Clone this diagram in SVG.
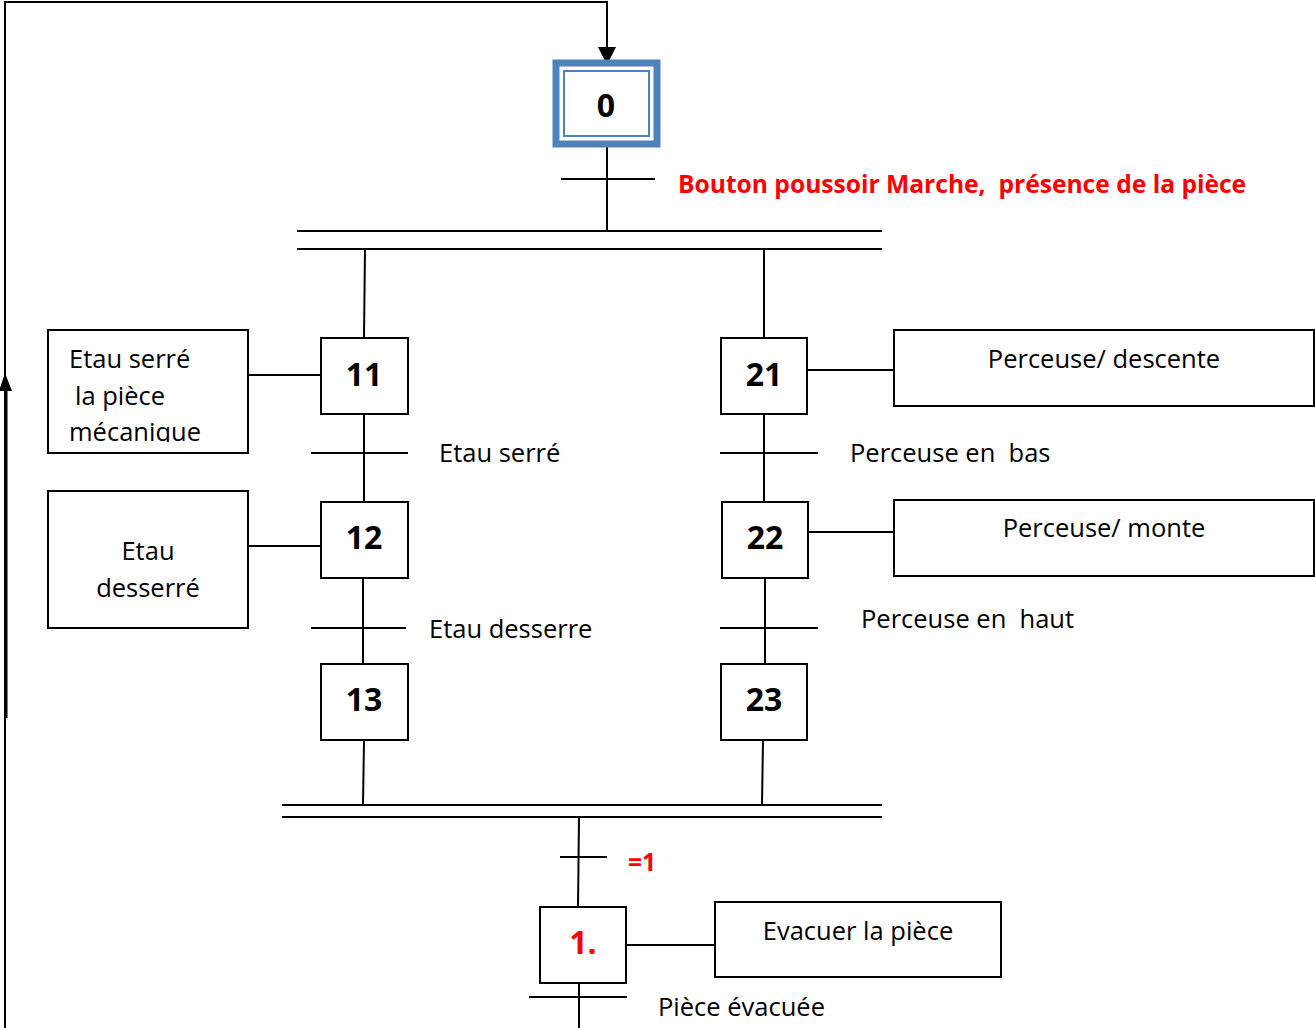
<svg xmlns="http://www.w3.org/2000/svg" width="1315" height="1028" viewBox="0 0 1315 1028" xml:space="preserve">
  <style>
    .ln { stroke: #000; stroke-width: 2; fill: none; }
    .box { fill: #fff; stroke: #000; stroke-width: 2; }
    .num { font-family: "Open Sans", "Liberation Sans", sans-serif; font-weight: bold; font-size: 32px; text-anchor: middle; fill: #000; }
    .lbl { font-family: "Open Sans", "Liberation Sans", sans-serif; font-size: 25.5px; fill: #000; white-space: pre; }
    .red { font-family: "Open Sans", "Liberation Sans", sans-serif; font-weight: bold; font-size: 24.6px; fill: #ff0000; white-space: pre; }
  </style>
  <defs>
    <clipPath id="clipA">
      <rect x="49" y="331" width="198" height="111"/>
    </clipPath>
  </defs>

  <!-- connectors -->
  <g id="connectors">
    <!-- loop back to initial step -->
    <polyline class="ln" points="5,1028 5,2 607,2 607,50"/>
    <path d="M5,373 L-1,391 L12,391 Z" fill="#000"/>
    <line x1="6" y1="390" x2="6" y2="718" stroke="#000" stroke-width="3"/>
    <path d="M598,47 L616,47 L607,65 Z" fill="#000"/>

    <!-- step 0 to divergence -->
    <line class="ln" x1="607" y1="147" x2="607" y2="231"/>
    <line class="ln" x1="561" y1="179" x2="655" y2="179"/>

    <!-- AND divergence -->
    <line class="ln" x1="297" y1="231" x2="882" y2="231"/>
    <line class="ln" x1="297" y1="249" x2="882" y2="249"/>

    <!-- left branch -->
    <line class="ln" x1="365" y1="249" x2="364" y2="338"/>
    <line class="ln" x1="248" y1="375" x2="321" y2="375"/>
    <line class="ln" x1="364" y1="414" x2="364" y2="502"/>
    <line class="ln" x1="311" y1="453" x2="408" y2="453"/>
    <line class="ln" x1="248" y1="546" x2="321" y2="546"/>
    <line class="ln" x1="363" y1="578" x2="363" y2="664"/>
    <line class="ln" x1="311" y1="628" x2="406" y2="628"/>
    <line class="ln" x1="364" y1="740" x2="363" y2="805"/>

    <!-- right branch -->
    <line class="ln" x1="764" y1="249" x2="764" y2="338"/>
    <line class="ln" x1="807" y1="370" x2="894" y2="370"/>
    <line class="ln" x1="764" y1="414" x2="764" y2="502"/>
    <line class="ln" x1="720" y1="453" x2="818" y2="453"/>
    <line class="ln" x1="808" y1="532" x2="897" y2="532"/>
    <line class="ln" x1="765" y1="576" x2="765" y2="664"/>
    <line class="ln" x1="720" y1="628" x2="818" y2="628"/>
    <line class="ln" x1="763" y1="740" x2="762" y2="805"/>

    <!-- AND convergence -->
    <line class="ln" x1="282" y1="805" x2="882" y2="805"/>
    <line class="ln" x1="282" y1="817" x2="882" y2="817"/>

    <!-- to final step -->
    <line class="ln" x1="579" y1="817" x2="578" y2="907"/>
    <line class="ln" x1="560" y1="857" x2="607" y2="857"/>
    <line class="ln" x1="626" y1="945" x2="715" y2="945"/>
    <line class="ln" x1="579" y1="983" x2="579" y2="1028"/>
    <line class="ln" x1="529" y1="997" x2="627" y2="997"/>
  </g>

  <!-- transition labels -->
  <g id="conditions">
    <text class="red" x="678" y="193">Bouton poussoir Marche,  présence de la pièce</text>
    <text class="lbl" x="439" y="462">Etau serré</text>
    <text class="lbl" x="429" y="638">Etau desserre</text>
    <text class="lbl" x="850" y="462">Perceuse en  bas</text>
    <text class="lbl" x="861" y="628">Perceuse en  haut</text>
    <text class="red" x="628" y="871">=1</text>
    <text class="lbl" x="658" y="1016">Pièce évacuée</text>
  </g>

  <!-- initial step -->
  <g id="step0">
    <rect x="556" y="63" width="101" height="81" fill="#fff" stroke="#4f81bd" stroke-width="7"/>
    <rect x="564" y="71" width="85" height="65" fill="none" stroke="#4f81bd" stroke-width="2"/>
    <text class="num" x="606" y="117">0</text>
  </g>

  <g id="step11">
    <rect class="box" x="321" y="338" width="87" height="76"/>
    <text class="num" x="364" y="386">11</text>
  </g>
  <g id="action11">
    <rect class="box" x="48" y="330" width="200" height="123"/>
    <g clip-path="url(#clipA)">
      <text class="lbl" x="69" y="368">Etau serré</text>
      <text class="lbl" x="75" y="405">la pièce</text>
      <text class="lbl" x="69" y="441">mécanique</text>
    </g>
  </g>

  <g id="step12">
    <rect class="box" x="321" y="502" width="87" height="76"/>
    <text class="num" x="364" y="549">12</text>
  </g>
  <g id="action12">
    <rect class="box" x="48" y="491" width="200" height="137"/>
    <text class="lbl" x="148" y="560" text-anchor="middle">Etau</text>
    <text class="lbl" x="148" y="597" text-anchor="middle">desserré</text>
  </g>

  <g id="step13">
    <rect class="box" x="321" y="664" width="87" height="76"/>
    <text class="num" x="364" y="711">13</text>
  </g>

  <g id="step21">
    <rect class="box" x="721" y="338" width="86" height="76"/>
    <text class="num" x="764" y="386">21</text>
  </g>
  <g id="action21">
    <rect class="box" x="894" y="330" width="420" height="76"/>
    <text class="lbl" x="1104" y="368" text-anchor="middle">Perceuse/ descente</text>
  </g>

  <g id="step22">
    <rect class="box" x="722" y="502" width="86" height="76"/>
    <text class="num" x="765" y="549">22</text>
  </g>
  <g id="action22">
    <rect class="box" x="894" y="500" width="420" height="76"/>
    <text class="lbl" x="1104" y="537" text-anchor="middle">Perceuse/ monte</text>
  </g>

  <g id="step23">
    <rect class="box" x="721" y="664" width="86" height="76"/>
    <text class="num" x="764" y="711">23</text>
  </g>

  <g id="step1">
    <rect class="box" x="540" y="907" width="86" height="76"/>
    <text class="num" x="583" y="954" style="fill:#ff0000">1.</text>
  </g>
  <g id="action1">
    <rect class="box" x="715" y="902" width="286" height="75"/>
    <text class="lbl" x="858" y="940" text-anchor="middle">Evacuer la pièce</text>
  </g>
</svg>
